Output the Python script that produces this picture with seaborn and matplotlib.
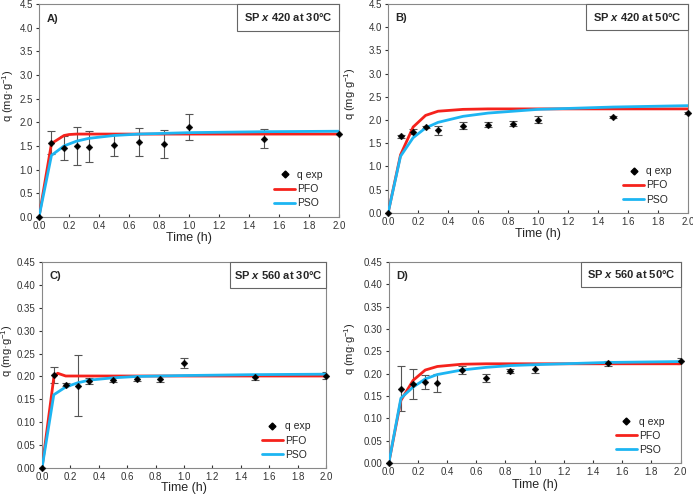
import numpy as np
import pandas as pd
import seaborn as sns
import matplotlib
matplotlib.use("Agg")
import matplotlib.pyplot as plt
from matplotlib.patches import Rectangle
from matplotlib.lines import Line2D

# experimental sampling times (h)
t_exp = [0, 0.083, 0.167, 0.25, 0.333, 0.5, 0.667, 0.833, 1.0, 1.5, 2.0]

# A) SP x 420 at 30°C
qA = [0, 1.57, 1.45, 1.50, 1.48, 1.51, 1.58, 1.54, 1.90, 1.65, 1.75]
eA = [0, 0.25, 0.25, 0.40, 0.33, 0.23, 0.30, 0.30, 0.28, 0.20, 0.0]
tA_pfo = [0, 0.083, 0.167, 0.2, 0.25, 0.5, 1.0, 2.0]
qA_pfo = [0, 1.55, 1.72, 1.74, 1.75, 1.75, 1.75, 1.75]
tA_pso = [0, 0.083, 0.167, 0.25, 0.333, 0.5, 0.667, 1.0, 1.5, 2.0]
qA_pso = [0, 1.30, 1.50, 1.60, 1.66, 1.72, 1.75, 1.78, 1.80, 1.81]

# B) SP x 420 at 50°C
qB = [0, 1.65, 1.75, 1.85, 1.78, 1.88, 1.90, 1.92, 2.01, 2.06, 2.15]
eB = [0, 0.03, 0.06, 0.03, 0.10, 0.08, 0.06, 0.05, 0.07, 0.02, 0.02]
tB_pfo = [0, 0.083, 0.167, 0.25, 0.333, 0.5, 0.667, 1.0, 2.0]
qB_pfo = [0, 1.25, 1.85, 2.10, 2.19, 2.23, 2.24, 2.24, 2.24]
tB_pso = [0, 0.083, 0.167, 0.25, 0.333, 0.5, 0.667, 0.833, 1.0, 1.5, 2.0]
qB_pso = [0, 1.22, 1.62, 1.83, 1.95, 2.08, 2.15, 2.19, 2.23, 2.28, 2.31]

# C) SP x 560 at 30°C
qC = [0, 0.203, 0.182, 0.180, 0.190, 0.193, 0.195, 0.195, 0.230, 0.198, 0.202]
eC = [0, 0.018, 0.003, 0.066, 0.006, 0.006, 0.006, 0.007, 0.011, 0.005, 0.007]
tC_pfo = [0, 0.083, 0.11, 0.167, 0.25, 0.5, 1.0, 2.0]
qC_pfo = [0, 0.197, 0.207, 0.201, 0.201, 0.201, 0.201, 0.201]
tC_pso = [0, 0.083, 0.167, 0.25, 0.333, 0.5, 0.667, 1.0, 1.5, 2.0]
qC_pso = [0, 0.160, 0.177, 0.186, 0.192, 0.197, 0.200, 0.202, 0.204, 0.205]

# D) SP x 560 at 50°C
qD = [0, 0.166, 0.177, 0.182, 0.179, 0.208, 0.190, 0.206, 0.211, 0.223, 0.229]
eD = [0, 0.050, 0.034, 0.016, 0.020, 0.008, 0.009, 0.005, 0.009, 0.006, 0.007]
tD_pfo = [0, 0.083, 0.167, 0.25, 0.333, 0.5, 0.667, 1.0, 2.0]
qD_pfo = [0, 0.140, 0.185, 0.208, 0.216, 0.221, 0.222, 0.222, 0.222]
tD_pso = [0, 0.083, 0.167, 0.25, 0.333, 0.5, 0.667, 0.833, 1.0, 1.5, 2.0]
qD_pso = [0, 0.145, 0.170, 0.188, 0.198, 0.208, 0.214, 0.218, 0.220, 0.225, 0.227]

panels = [
    ("A)", "420 at 30°C", qA, eA, tA_pfo, qA_pfo, tA_pso, qA_pso, 4.5, 0.5, "%.1f"),
    ("B)", "420 at 50°C", qB, eB, tB_pfo, qB_pfo, tB_pso, qB_pso, 4.5, 0.5, "%.1f"),
    ("C)", "560 at 30°C", qC, eC, tC_pfo, qC_pfo, tC_pso, qC_pso, 0.45, 0.05, "%.2f"),
    ("D)", "560 at 50°C", qD, eD, tD_pfo, qD_pfo, tD_pso, qD_pso, 0.45, 0.05, "%.2f"),
]

# axes rectangles in figure fractions (left, bottom, width, height)
rects = [
    (0.0563, 0.561, 0.433, 0.431),
    (0.560, 0.569, 0.433, 0.423),
    (0.0606, 0.0526, 0.410, 0.417),
    (0.561, 0.0628, 0.421, 0.407),
]
# y-label x position (axes fraction, right edge of rotated label)
ylab_x = [-0.076, -0.100, -0.096, -0.106]
xlab_pad = [1, 1, 0, 1]

RED = "#F5221C"
BLUE = "#1DB5F2"

sns.set_style("white")
plt.rcParams["font.family"] = ["Liberation Sans", "DejaVu Sans"]
plt.rcParams["mathtext.fontset"] = "custom"
plt.rcParams["mathtext.rm"] = "Liberation Sans"
plt.rcParams["mathtext.bfit"] = "Liberation Sans:italic:bold"

fig = plt.figure(figsize=(6.93, 4.94), dpi=100)

for i, (rect, (tag, title, q, err, tpfo, qpfo, tpso, qpso, ymax, ystep, fmt)) in enumerate(zip(rects, panels)):
    ax = fig.add_axes(rect)
    pfo = pd.DataFrame({"t": tpfo, "q": qpfo})
    pso = pd.DataFrame({"t": tpso, "q": qpso})
    exp = pd.DataFrame({"t": t_exp, "q": q, "e": err})

    ax.errorbar(exp["t"], exp["q"], yerr=exp["e"], fmt="none", ecolor="#555555",
                elinewidth=0.8, capsize=3, capthick=0.8, zorder=2)
    sns.lineplot(data=pfo, x="t", y="q", ax=ax, color=RED, lw=2, zorder=3)
    sns.lineplot(data=pso, x="t", y="q", ax=ax, color=BLUE, lw=2, zorder=4)
    sns.scatterplot(data=exp, x="t", y="q", ax=ax, marker="D", s=12, color="black",
                    edgecolor="black", zorder=5, clip_on=False)

    ax.set_xlim(0, 2.0)
    ax.set_ylim(0, ymax)
    ax.set_xticks(np.arange(0, 2.01, 0.2))
    ax.set_yticks(np.arange(0, ymax + ystep / 2, ystep))
    ax.xaxis.set_major_formatter(matplotlib.ticker.FormatStrFormatter("%.1f"))
    ax.yaxis.set_major_formatter(matplotlib.ticker.FormatStrFormatter(fmt))
    ax.tick_params(axis="x", direction="in", length=2.5, width=0.8, labelsize=7,
                   colors="#333333", bottom=True, pad=3)
    ax.tick_params(axis="y", direction="out", length=2.5, width=0.8, labelsize=7,
                   colors="#333333", left=True, pad=2)
    for s in ["left", "bottom", "top", "right"]:
        ax.spines[s].set_visible(True)
        ax.spines[s].set_color("#888888")
        ax.spines[s].set_linewidth(0.8)
    ax.set_xlabel("Time (h)", fontsize=9, labelpad=xlab_pad[i])
    ax.set_ylabel(r"q (mg·g$^{-1}$)", fontsize=8)
    ax.yaxis.set_label_coords(ylab_x[i], 0.57)

    ax.text(0.025, 0.955, tag, transform=ax.transAxes, fontsize=8, fontweight="bold",
            va="top", ha="left")

    # boxed title in the upper right corner
    ax.add_patch(Rectangle((0.66, 0.875), 0.34, 0.125, transform=ax.transAxes,
                           facecolor="white", edgecolor="#666666", lw=0.8,
                           clip_on=False, zorder=6))
    ax.text(0.83, 0.9375, r"SP $\mathbfit{x}$ " + title, transform=ax.transAxes,
            fontsize=8, fontweight="bold", va="center", ha="center", zorder=7)

    handles = [
        Line2D([], [], marker="D", ls="none", color="black", markersize=3.5),
        Line2D([], [], color=RED, lw=2),
        Line2D([], [], color=BLUE, lw=2),
    ]
    ax.legend(handles, ["q exp", "PFO", "PSO"], loc="lower right",
              bbox_to_anchor=(0.945, 0.04), borderaxespad=0, borderpad=0,
              frameon=False, fontsize=7.5, handlelength=2.0, handletextpad=0.2,
              labelspacing=0.4)

fig.savefig("out.png", dpi=100)
